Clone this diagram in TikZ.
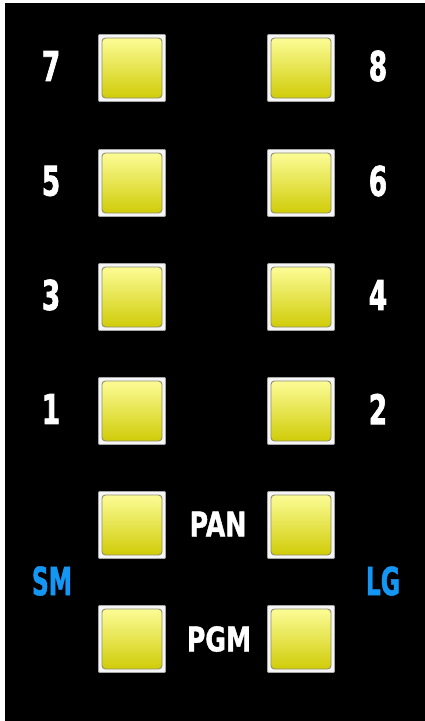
\documentclass[tikz,border=0pt]{standalone}
\usepackage{fontspec}
\newfontfamily\numfont[FakeStretch=0.64,FakeBold=1.6]{DejaVu Sans Bold}
\newfontfamily\panfont[FakeStretch=0.74,FakeBold=1.2]{DejaVu Sans Bold}
\newfontfamily\sizefont[FakeStretch=0.6,FakeBold=1.2]{DejaVu Sans Bold}
\definecolor{ytop}{RGB}{252,252,150}
\definecolor{ybot}{RGB}{208,204,8}
\definecolor{smblue}{RGB}{20,150,245}
\tikzset{
  frame/.style={draw=gray!70, fill=gray!8, line width=0.8pt, minimum size=67pt, inner sep=0pt, rounded corners=1pt},
  pad/.style={draw=gray!75!olive, line width=0.9pt, minimum size=60pt, inner sep=0pt, rounded corners=3.5pt, top color=ytop, bottom color=ybot},
  num/.style={text=white, font=\numfont\fontsize{41}{41}\selectfont, inner sep=0pt},
  lab/.style={text=white, font=\panfont\fontsize{34}{34}\selectfont, inner sep=0pt},
  side/.style={text=smblue, font=\sizefont\fontsize{39}{39}\selectfont, inner sep=0pt}
}
\begin{document}
\begin{tikzpicture}[x=1pt,y=-1pt]
\useasboundingbox (0,0) rectangle (425,721);
\fill[white] (0,0) rectangle (425,721);
\fill[black] (5,3) rectangle (425,721);
\foreach \n/\x/\y in {7/132/68, 8/301/68, 5/132/183, 6/301/183, 3/132/297, 4/301/297, 1/132/411, 2/301/411, pl/132/525, pr/301/525, gl/132/639, gr/301/639}{
  \node[frame] (f\n) at (\x,\y) {};
  \node[pad] (p\n) at (f\n) {};
}
\node[num] (t7) at (51,66) {7};
\node[num] (t8) at (378,66) {8};
\node[num] (t5) at (51,181) {5};
\node[num] (t6) at (378,181) {6};
\node[num] (t3) at (51,295) {3};
\node[num] (t4) at (378,295) {4};
\node[num] (t1) at (51,409) {1};
\node[num] (t2) at (378,409) {2};
\node[lab] (pan) at (218,524) {PAN};
\node[lab] (pgm) at (219,639) {PGM};
\node[side] (sm) at (52,581) {SM};
\node[side] (lg) at (383,581) {LG};
\end{tikzpicture}
\end{document}
